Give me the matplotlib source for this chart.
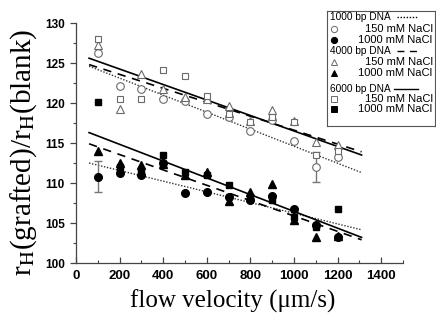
import numpy as np
import matplotlib
matplotlib.use("Agg")
import matplotlib.pyplot as plt

plt.rcParams["font.family"] = ["Liberation Sans", "DejaVu Sans"]
plt.rcParams["mathtext.fontset"] = "stix"

# data
velocity = [100, 200, 300, 400, 500, 600, 700, 800, 900, 1000, 1100, 1200]

dna1000_150 = [126.3, 122.1, 121.8, 120.5, 120.2, 118.6, 118.2, 116.5, 117.9, 115.3, 112.0, 113.3]
dna1000_1000 = [110.8, 111.2, 111.0, 112.5, 108.8, 108.9, 108.2, 107.9, 108.4, 106.8, 104.7, 103.2]
dna4000_150 = [127.3, 119.25, 123.6, 121.8, 120.8, 120.5, 119.6, 117.8, 119.1, 117.8, 115.1, 114.8]
dna4000_1000 = [114.0, 112.5, 112.25, 112.4, 111.0, 111.4, 107.7, 108.9, 109.9, 105.4, 103.3, 103.4]
dna6000_150 = [128.0, 120.5, 120.5, 124.1, 123.4, 120.9, 118.6, 117.6, 118.3, 117.6, 113.5, 114.0]
dna6000_1000 = [120.1, 112.0, 111.6, 113.5, 111.4, 111.0, 109.8, 108.3, 107.9, 105.7, 104.5, 106.8]

# error bars shown on two points only
err_x = [1100, 100]
err_y = [112.0, 110.8]
err_size = [1.9, 1.95]

# fitted lines (end points)
fit_x = [60, 1310]
fit1000_150 = [124.6, 111.3]
fit1000_1000 = [112.5, 104.15]
fit4000_150 = [124.8, 113.9]
fit4000_1000 = [114.9, 102.9]
fit6000_150 = [125.6, 113.5]
fit6000_1000 = [116.3, 103.2]

legend_headers = ["1000 bp DNA", "4000 bp DNA", "6000 bp DNA"]
legend_salt = ["150 mM NaCl", "1000 mM NaCl"]

open_col = "#6a6a6a"
dotted = (0, (1, 1.2))
dashed = (0, (5, 4))

fig = plt.figure(figsize=(4.36, 3.25), dpi=100)
ax = fig.add_axes([76 / 436, 1 - 263 / 325, 327 / 436, 240 / 325])

# fit lines
ax.plot(fit_x, fit1000_150, color="#333333", lw=1.0, ls=dotted)
ax.plot(fit_x, fit1000_1000, color="#333333", lw=1.0, ls=dotted)
ax.plot(fit_x, fit4000_150, color="k", lw=1.2, ls=dashed)
ax.plot(fit_x, fit4000_1000, color="k", lw=1.2, ls=dashed)
ax.plot(fit_x, fit6000_150, color="k", lw=1.2)
ax.plot(fit_x, fit6000_1000, color="k", lw=1.2)

ax.errorbar(err_x, err_y, yerr=err_size, fmt="none", ecolor="#777777",
            elinewidth=1.0, capsize=3, capthick=1.0, zorder=2)

mk = dict(ls="none", zorder=3)
ax.plot(velocity, dna1000_150, marker="o", ms=5.5, mfc="white", mec=open_col, mew=0.8, **mk)
ax.plot(velocity, dna4000_150, marker="^", ms=6, mfc="white", mec=open_col, mew=0.8, **mk)
ax.plot(velocity, dna6000_150, marker="s", ms=4.6, mfc="white", mec=open_col, mew=0.8, **mk)
ax.plot(velocity, dna1000_1000, marker="o", ms=5.5, mfc="k", mec="k", **mk)
ax.plot(velocity, dna4000_1000, marker="^", ms=6, mfc="k", mec="k", **mk)
ax.plot(velocity, dna6000_1000, marker="s", ms=4.6, mfc="k", mec="k", **mk)

ax.set_xlim(0, 1500)
ax.set_ylim(100, 130)
ax.set_xticks(np.arange(0, 1401, 200))
ax.set_xticks(np.arange(0, 1501, 100), minor=True)
ax.set_yticks(np.arange(100, 131, 5))
ax.set_yticks(np.arange(100, 130.1, 2.5), minor=True)
for s in ["top", "right"]:
    ax.spines[s].set_visible(False)
for s in ["left", "bottom"]:
    ax.spines[s].set_color("#444444")
    ax.spines[s].set_linewidth(0.9)
ax.tick_params(axis="x", which="major", direction="in", length=4, width=0.9, color="#444444", pad=5)
ax.tick_params(axis="x", which="minor", direction="in", length=2.5, width=0.8, color="#444444")
ax.tick_params(axis="y", which="major", direction="out", length=4, width=0.9, color="#444444", pad=4)
ax.tick_params(axis="y", which="minor", direction="out", length=2.5, width=0.8, color="#444444")
for lab in ax.get_xticklabels():
    lab.set_fontweight("bold")
    lab.set_fontsize(9.5)
for lab in ax.get_yticklabels():
    lab.set_fontweight("bold")
    lab.set_fontsize(8.5)

ax.set_xlabel("flow velocity (\u03bcm/s)", family=["Liberation Serif", "DejaVu Serif"], fontsize=18)
ax.xaxis.set_label_coords(0.479, -0.11)
ax.set_ylabel(r"r$_{\mathrm{H}}$(grafted)/r$_{\mathrm{H}}$(blank)",
              family=["Liberation Serif", "DejaVu Serif"], fontsize=21, va="center")
ax.yaxis.set_label_coords(-0.16, 0.4625)

# legend box, drawn in pixel-like coordinates
lg = fig.add_axes([327 / 436, 1 - 126 / 325, 108 / 436, 115 / 325])
lg.set_xlim(327, 435)
lg.set_ylim(126, 11)
lg.set_xticks([])
lg.set_yticks([])
for s in lg.spines.values():
    s.set_color("#555555")
    s.set_linewidth(0.8)

head_y = [16.5, 50.7, 88.7]
head_ls = [dotted, dashed, "-"]
head_line_start = [397, 397, 394]
row_y = [[29.3, 40.0], [61.7, 72.7], [99.0, 109.3]]
row_marker = ["o", "^", "s"]
row_ms = [4.5, 5, 4]
for i, name in enumerate(legend_headers):
    lg.text(329.5, head_y[i], name, fontsize=7.3, ha="left", va="center")
    lg.plot([head_line_start[i], 418], [head_y[i], head_y[i]], color="k",
            lw=1.0, ls=head_ls[i])
    for j, salt in enumerate(legend_salt):
        fill = "white" if j == 0 else "k"
        edge = open_col if j == 0 else "k"
        lg.plot([333.5], [row_y[i][j]], marker=row_marker[i], ms=row_ms[i],
                mfc=fill, mec=edge, mew=0.7, ls="none")
        lg.text(432.5, row_y[i][j], salt, fontsize=8, ha="right", va="center")

fig.savefig("out.png", dpi=100)
